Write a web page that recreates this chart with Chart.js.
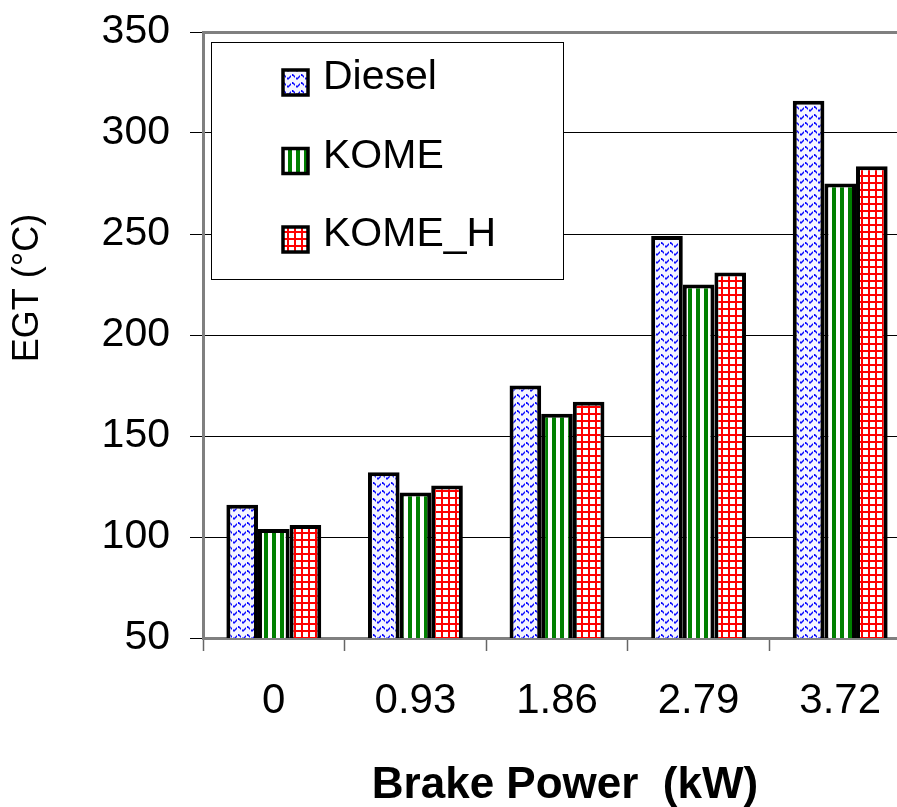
<!DOCTYPE html>
<html><head><meta charset="utf-8">
<script src="https://cdn.jsdelivr.net/npm/chart.js@4"></script>
<style>
html,body{margin:0;padding:0;overflow:hidden;background:#fff;width:897px;height:807px}
#wrap{width:897px;height:807px;overflow:hidden;position:relative;background:#fff}
canvas{display:block}
</style></head><body>
<div id="wrap"><canvas id="c" width="912" height="807" style="width:912px;height:807px"></canvas></div>
<script>
// ---- data ----
const categories = ['0', '0.93', '1.86', '2.79', '3.72'];
const seriesNames = ['Diesel', 'KOME', 'KOME_H'];
const diesel = [116, 132, 175, 249, 316];
const kome = [104, 122, 161, 225, 275];
const komeH = [106, 125.5, 167, 231, 283.5];
const yMin = 50, yMax = 350, yStep = 50;
const xTitle = 'Brake Power  (kW)';
const yTitle = 'EGT (°C)';

const FONT = "'Liberation Sans', Arial, Helvetica, sans-serif";
const canvas = document.getElementById('c');
const ctx = canvas.getContext('2d');

function makePattern(w, h, draw) {
  const c = document.createElement('canvas');
  c.width = w; c.height = h;
  const g = c.getContext('2d');
  g.fillStyle = '#fff';
  g.fillRect(0, 0, w, h);
  draw(g, w, h);
  return ctx.createPattern(c, 'repeat');
}
const pDiesel = makePattern(9, 8, (g, w, h) => {
  g.fillStyle = '#f4f4ff';
  g.fillRect(0, 0, w, h);
  g.fillStyle = '#0a0aff';
  // dashed arch-shaped wave, one period per tile
  const col = [6, 5, 4, 3, 2.5, 3, 4, 5, 6];
  col.forEach((y, x) => {
    if (x % 4 !== 3) g.fillRect(x, y - 0.5, 1, 2);
  });
});
const pKome = makePattern(8, 4, (g, w, h) => {
  g.fillStyle = '#008000';
  g.fillRect(0, 0, 4, h);
});
const pKomeH = makePattern(7, 7, (g, w, h) => {
  g.fillStyle = '#ff0000';
  g.fillRect(0, 0, 2, h);
  g.fillRect(0, 0, w, 2);
});
const patterns = [pDiesel, pKome, pKomeH];
const seriesData = [diesel, kome, komeH];

const overlay = {
  id: 'overlay',
  afterDraw(chart) {
    const c = chart.ctx;
    c.save();
    // legend box
    c.fillStyle = '#fff';
    c.fillRect(211, 42, 352, 237);
    c.strokeStyle = '#000';
    c.lineWidth = 1;
    c.strokeRect(211.5, 42.5, 352, 237);
    chart.data.datasets.forEach((ds, i) => {
      const ty = 78 + i * 78.5;
      const sy = ty + 4;
      c.fillStyle = ds.backgroundColor;
      c.fillRect(283, sy - 12, 25, 25);
      c.strokeStyle = '#000';
      c.lineWidth = 3.5;
      c.strokeRect(283, sy - 12, 25, 25);
      c.fillStyle = '#000';
      c.font = '41px ' + FONT;
      c.textAlign = 'left';
      c.textBaseline = 'middle';
      c.fillText(ds.label, 323, ty);
    });
    // axis titles
    c.fillStyle = '#000';
    c.font = 'bold 44px ' + FONT;
    c.textAlign = 'center';
    c.textBaseline = 'middle';
    c.fillText(xTitle, 565, 786);
    c.save();
    c.translate(28, 288);
    c.rotate(-Math.PI / 2);
    c.font = '36px ' + FONT;
    c.fillText(yTitle, 0, 0);
    c.restore();
    c.restore();
  }
};

new Chart(ctx, {
  type: 'bar',
  data: {
    labels: categories,
    datasets: seriesNames.map((name, i) => ({
      label: name,
      data: seriesData[i],
      backgroundColor: patterns[i],
      borderColor: '#000',
      borderWidth: 4,
      borderSkipped: 'start'
    }))
  },
  options: {
    responsive: false,
    animation: false,
    devicePixelRatio: 1,
    layout: { padding: { top: 32, right: 1, left: 0, bottom: 0 } },
    plugins: { legend: { display: false }, tooltip: { enabled: false }, title: { display: false } },
    datasets: { bar: { categoryPercentage: 0.67, barPercentage: 1.0 } },
    scales: {
      x: {
        grid: { offset: true, drawOnChartArea: false, drawTicks: true, tickLength: 13, tickColor: '#666', tickWidth: 1.5 },
        border: { color: '#808080', width: 3 },
        ticks: { font: { family: FONT, size: 42 }, color: '#000', padding: 25, maxRotation: 0, autoSkip: false },
        afterFit(s) { s.height = 169; s.paddingLeft = 0; s.paddingRight = 0; }
      },
      y: {
        min: yMin, max: yMax,
        ticks: { stepSize: yStep, font: { family: FONT, size: 41 }, color: '#000', padding: 20 },
        grid: {
          color: (cx) => (cx.tick && (cx.tick.value === yMax || cx.tick.value === yMin)) ? '#808080' : '#000',
          lineWidth: (cx) => (cx.tick && (cx.tick.value === yMax || cx.tick.value === yMin)) ? 3 : 1,
          tickLength: 13, tickColor: '#000', tickWidth: 1
        },
        border: { color: '#808080', width: 3 },
        afterFit(s) { s.width = 203; s.paddingTop = 0; s.paddingBottom = 0; }
      }
    }
  },
  plugins: [overlay]
});
</script>
</body></html>
